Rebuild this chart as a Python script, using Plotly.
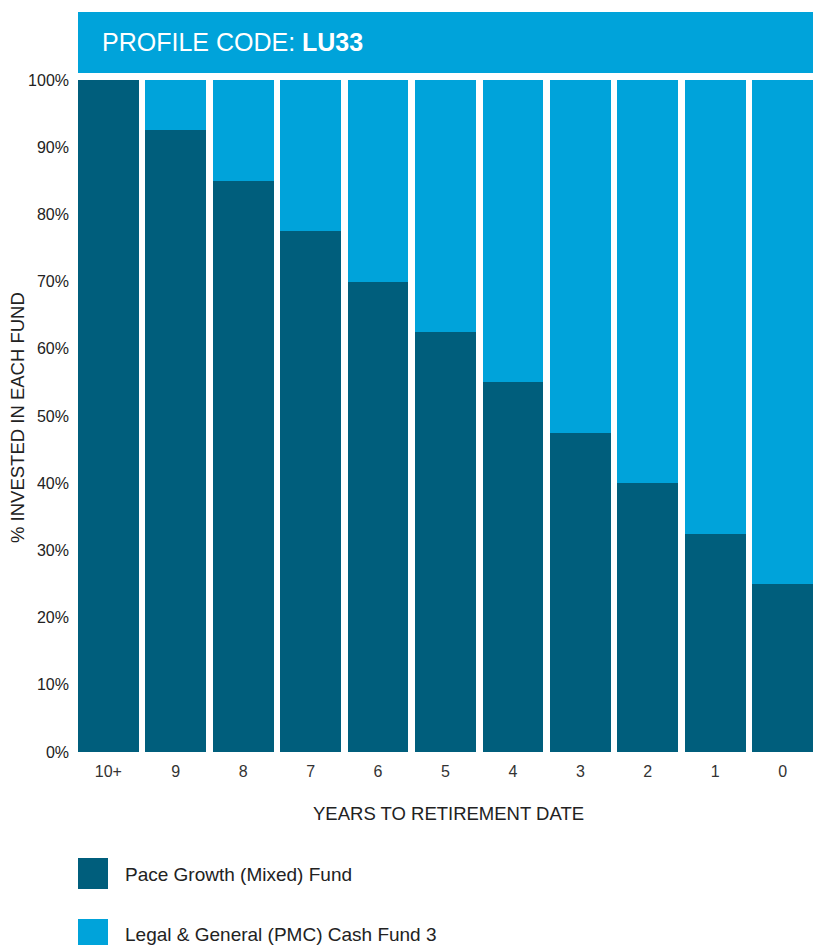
import plotly.graph_objects as go

# ---- data ----
categories = ["10+", "9", "8", "7", "6", "5", "4", "3", "2", "1", "0"]
pace_growth = [100, 92.5, 85, 77.5, 70, 62.5, 55, 47.5, 40, 32.5, 25]
cash_fund = [0, 7.5, 15, 22.5, 30, 37.5, 45, 52.5, 60, 67.5, 75]
series_names = ["Pace Growth (Mixed) Fund", "Legal & General (PMC) Cash Fund 3"]
y_tickvals = [0, 10, 20, 30, 40, 50, 60, 70, 80, 90, 100]
y_ticktext = ["0%", "10%", "20%", "30%", "40%", "50%", "60%", "70%", "80%", "90%", "100%"]

DARK = "#005e7c"
LIGHT = "#00a3da"
TXT = "#222222"
FONT = "Liberation Sans, Arial, sans-serif"

W, H = 813, 945
L, R, T, B = 78, 0, 80, 193
PH = H - T - B          # plot height px
PW = W - L - R          # plot width px

def py(p):  # pixel y -> paper y
    return (H - B - p) / PH

def px(p):  # pixel x -> paper x
    return (p - L) / PW

fig = go.Figure()
fig.add_trace(go.Bar(x=categories, y=pace_growth, name=series_names[0],
                     marker=dict(color=DARK, line=dict(width=0))))
fig.add_trace(go.Bar(x=categories, y=cash_fund, name=series_names[1],
                     marker=dict(color=LIGHT, line=dict(width=0))))

shapes = [
    # header band
    dict(type="rect", xref="paper", yref="paper", x0=0, x1=1,
         y0=py(73), y1=py(12), fillcolor=LIGHT, line=dict(width=0), layer="below"),
    # legend swatches
    dict(type="rect", xref="paper", yref="paper", x0=px(78), x1=px(108),
         y0=py(889), y1=py(858), fillcolor=DARK, line=dict(width=0)),
    dict(type="rect", xref="paper", yref="paper", x0=px(78), x1=px(108),
         y0=py(950), y1=py(919), fillcolor=LIGHT, line=dict(width=0)),
]

annotations = [
    dict(text="PROFILE CODE: <b>LU33</b>", xref="paper", yref="paper",
         x=px(100), y=py(42), xanchor="left", yanchor="middle", showarrow=False,
         font=dict(family=FONT, size=25, color="white")),
    dict(text="YEARS TO RETIREMENT DATE", xref="paper", yref="paper",
         x=px(448), y=py(814), xanchor="center", yanchor="middle", showarrow=False,
         font=dict(family=FONT, size=18.5, color=TXT)),
    dict(text="% INVESTED IN EACH FUND", xref="paper", yref="paper",
         x=px(17), y=py(418), xanchor="center", yanchor="middle", showarrow=False,
         textangle=-90, font=dict(family=FONT, size=18.5, color=TXT)),
    dict(text=series_names[0], xref="paper", yref="paper",
         x=px(123), y=py(875), xanchor="left", yanchor="middle", showarrow=False,
         font=dict(family=FONT, size=19, color=TXT)),
    dict(text=series_names[1], xref="paper", yref="paper",
         x=px(123), y=py(934), xanchor="left", yanchor="middle", showarrow=False,
         font=dict(family=FONT, size=19, color=TXT)),
]

fig.update_layout(
    width=W, height=H,
    margin=dict(l=L, r=R, t=T, b=B),
    barmode="stack", bargap=0.1,
    showlegend=False,
    paper_bgcolor="white", plot_bgcolor="white",
    font=dict(family=FONT, color=TXT),
    shapes=shapes, annotations=annotations,
    xaxis=dict(range=[-0.45, 10.45], showgrid=False, zeroline=False, showline=False,
               ticks="", tickfont=dict(size=16, color="#333333"), ticklabelstandoff=8),
    yaxis=dict(range=[0, 100], tickvals=y_tickvals, ticktext=y_ticktext,
               showgrid=False, zeroline=False, showline=False, ticks="",
               tickfont=dict(size=16, color=TXT), ticklabelstandoff=8),
)

fig.write_html(
    "out.html",
    config={"displayModeBar": False},
    post_script="document.body.style.margin='0';document.body.style.overflow='hidden';",
)
